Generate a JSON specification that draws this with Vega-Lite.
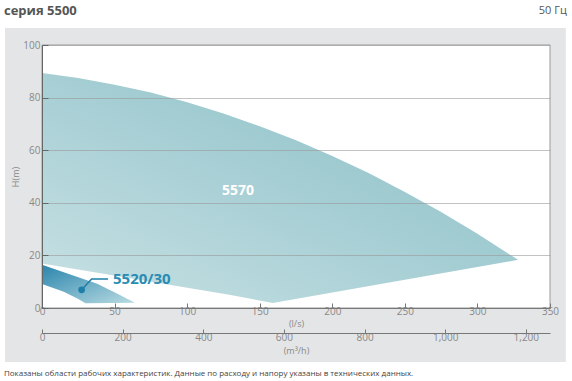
{
  "$schema": "https://vega.github.io/schema/vega-lite/v6.json",
  "width": 508,
  "height": 263,
  "autosize": "none",
  "padding": {"left": 42, "top": 45, "right": 22, "bottom": 73},
  "background": "white",
  "config": {"view": {"stroke": null}, "font": "Open Sans"},
  "datasets": {
    "shapes": [
      {"series": "5570", "i": 1, "q": 0, "h": 89.4},
      {"series": "5570", "i": 2, "q": 25, "h": 87.5},
      {"series": "5570", "i": 3, "q": 50, "h": 84.9},
      {"series": "5570", "i": 4, "q": 75, "h": 81.9},
      {"series": "5570", "i": 5, "q": 100, "h": 78.2},
      {"series": "5570", "i": 6, "q": 125, "h": 74.0},
      {"series": "5570", "i": 7, "q": 150, "h": 69.1},
      {"series": "5570", "i": 8, "q": 175, "h": 63.8},
      {"series": "5570", "i": 9, "q": 200, "h": 57.8},
      {"series": "5570", "i": 10, "q": 225, "h": 51.3},
      {"series": "5570", "i": 11, "q": 250, "h": 44.1},
      {"series": "5570", "i": 12, "q": 275, "h": 36.5},
      {"series": "5570", "i": 13, "q": 300, "h": 28.2},
      {"series": "5570", "i": 14, "q": 328, "h": 18.3},
      {"series": "5570", "i": 15, "q": 159, "h": 1.9},
      {"series": "5570", "i": 16, "q": 129, "h": 5.0},
      {"series": "5570", "i": 17, "q": 0, "h": 16.9},
      {"series": "5520/30", "i": 1, "q": 0, "h": 16.4},
      {"series": "5520/30", "i": 2, "q": 20, "h": 12.6},
      {"series": "5520/30", "i": 3, "q": 38, "h": 9.2},
      {"series": "5520/30", "i": 4, "q": 52, "h": 5.4},
      {"series": "5520/30", "i": 5, "q": 64, "h": 2.0},
      {"series": "5520/30", "i": 6, "q": 30, "h": 1.8},
      {"series": "5520/30", "i": 7, "q": 25, "h": 3.4},
      {"series": "5520/30", "i": 8, "q": 15, "h": 6.2},
      {"series": "5520/30", "i": 9, "q": 0, "h": 9.1}
    ],
    "leader": [
      {"i": 1, "q": 27.3, "h": 6.9},
      {"i": 2, "q": 34.2, "h": 11.0},
      {"i": 3, "q": 45.5, "h": 11.0}
    ],
    "labels": [
      {"label": "5570", "q": 135, "h": 44.6},
      {"label": "5520/30", "q": 48.9, "h": 11.0}
    ],
    "one": [{}]
  },
  "layer": [
    {
      "layer": [
        {
          "data": {"name": "one"},
          "mark": {"type": "rect", "fill": "#e4e5e6"},
          "encoding": {
            "x": {"datum": -25.5, "type": "quantitative"},
            "x2": {"datum": 360.9},
            "y": {"datum": 106.5, "type": "quantitative"},
            "y2": {"datum": -20.5}
          }
        },
        {
          "data": {"name": "one"},
          "mark": {"type": "rect", "fill": "white", "stroke": "#9a9a9a", "strokeWidth": 1},
          "encoding": {
            "x": {"datum": 0, "type": "quantitative"},
            "x2": {"datum": 350},
            "y": {"datum": 100, "type": "quantitative"},
            "y2": {"datum": 0}
          }
        },
        {
          "data": {"name": "shapes"},
          "transform": [{"filter": "datum.series === '5570'"}],
          "mark": {
            "type": "line",
            "interpolate": "linear-closed",
            "strokeWidth": 0,
            "fill": {
              "gradient": "linear",
              "x1": 0, "y1": 1, "x2": 1, "y2": 0,
              "stops": [
                {"offset": 0, "color": "#c8e1e4"},
                {"offset": 1, "color": "#84bcc4"}
              ]
            }
          },
          "encoding": {
            "x": {
              "field": "q", "type": "quantitative",
              "scale": {"domain": [0, 350], "nice": false},
              "axis": {
                "orient": "bottom", "zindex": 1,
                "values": [0, 50, 100, 150, 200, 250, 300, 350],
                "tickSize": -5, "tickColor": "#777", "domainColor": "#777",
                "labelColor": "#888", "labelFontSize": 10, "labelPadding": 3, "labelFlush": false,
                "grid": false,
                "title": "(l/s)", "titleFontSize": 9, "titleColor": "#888", "titleFontWeight": "normal",
                "titleX": 254, "titleY": 15, "titleBaseline": "middle", "titleAlign": "center"
              }
            },
            "y": {
              "field": "h", "type": "quantitative",
              "scale": {"domain": [0, 100], "nice": false},
              "axis": {
                "zindex": 1,
                "values": [0, 20, 40, 60, 80, 100],
                "tickSize": -6, "tickColor": "#666", "domainColor": "#666",
                "labelColor": "#888", "labelFontSize": 10, "labelPadding": 8,
                "grid": true, "gridColor": "#9a9a9a", "gridOpacity": 0.6,
                "title": "H(m)", "titleFontSize": 9, "titleColor": "#888", "titleFontWeight": "normal",
                "titleX": -27, "titleY": 131.5, "titleBaseline": "middle", "titleAlign": "center"
              }
            },
            "order": {"field": "i", "type": "quantitative"}
          }
        },
        {
          "data": {"name": "shapes"},
          "transform": [{"filter": "datum.series === '5520/30'"}],
          "mark": {
            "type": "line",
            "interpolate": "linear-closed",
            "strokeWidth": 0,
            "fill": {
              "gradient": "linear",
              "x1": 0, "y1": 0, "x2": 1, "y2": 1,
              "stops": [
                {"offset": 0, "color": "#2a85ad"},
                {"offset": 1, "color": "#b9dbe2"}
              ]
            }
          },
          "encoding": {
            "x": {"field": "q", "type": "quantitative"},
            "y": {"field": "h", "type": "quantitative"},
            "order": {"field": "i", "type": "quantitative"}
          }
        },
        {
          "data": {"name": "leader"},
          "mark": {"type": "line", "color": "#1f7fa8", "strokeWidth": 1.5},
          "encoding": {
            "x": {"field": "q", "type": "quantitative"},
            "y": {"field": "h", "type": "quantitative"},
            "order": {"field": "i", "type": "quantitative"}
          }
        },
        {
          "data": {"name": "leader"},
          "transform": [{"filter": "datum.i === 1"}],
          "mark": {"type": "point", "filled": true, "color": "#1f7fa8", "size": 45, "opacity": 1},
          "encoding": {
            "x": {"field": "q", "type": "quantitative"},
            "y": {"field": "h", "type": "quantitative"}
          }
        },
        {
          "data": {"name": "labels"},
          "transform": [{"filter": "datum.label === '5570'"}],
          "mark": {"type": "text", "color": "white", "fontSize": 14, "fontWeight": "bold", "align": "center", "baseline": "middle"},
          "encoding": {
            "x": {"field": "q", "type": "quantitative"},
            "y": {"field": "h", "type": "quantitative"},
            "text": {"field": "label"}
          }
        },
        {
          "data": {"name": "labels"},
          "transform": [{"filter": "datum.label === '5520/30'"}],
          "mark": {"type": "text", "color": "#2a8cb2", "fontSize": 15, "fontWeight": "bold", "align": "left", "baseline": "middle"},
          "encoding": {
            "x": {"field": "q", "type": "quantitative"},
            "y": {"field": "h", "type": "quantitative"},
            "text": {"field": "label"}
          }
        },
        {
          "data": {"name": "one"},
          "mark": {"type": "text", "text": "серия 5500", "color": "#555", "fontSize": 13, "fontWeight": "bold", "align": "left", "baseline": "middle"},
          "encoding": {
            "x": {"datum": -26.2, "type": "quantitative"},
            "y": {"datum": 112.9, "type": "quantitative"}
          }
        },
        {
          "data": {"name": "one"},
          "mark": {"type": "text", "text": "50 Гц", "color": "#555", "fontSize": 11, "align": "right", "baseline": "middle"},
          "encoding": {
            "x": {"datum": 361.6, "type": "quantitative"},
            "y": {"datum": 112.9, "type": "quantitative"}
          }
        },
        {
          "data": {"name": "one"},
          "mark": {"type": "text", "text": "Показаны области рабочих характеристик. Данные по расходу и напору указаны в технических данных.", "color": "#444", "fontSize": 8, "align": "left", "baseline": "middle"},
          "encoding": {
            "x": {"datum": -26.2, "type": "quantitative"},
            "y": {"datum": -25.1, "type": "quantitative"}
          }
        }
      ]
    },
    {
      "data": {"name": "one"},
      "mark": {"type": "point", "opacity": 0},
      "encoding": {
        "x": {
          "datum": 0, "type": "quantitative",
          "scale": {"domain": [0, 1260], "nice": false},
          "axis": {
            "orient": "bottom", "offset": 25, "zindex": 1,
            "values": [0, 200, 400, 600, 800, 1000, 1200], "format": ",d",
            "tickSize": -4, "tickColor": "#777", "domainColor": "#777",
            "labelColor": "#888", "labelFontSize": 10, "labelPadding": 3, "labelFlush": false,
            "grid": false,
            "title": "(m³/h)", "titleFontSize": 9, "titleColor": "#888", "titleFontWeight": "normal",
            "titleX": 254, "titleY": 17, "titleBaseline": "middle", "titleAlign": "center"
          }
        }
      }
    }
  ],
  "resolve": {"scale": {"x": "independent"}, "axis": {"x": "independent"}}
}
